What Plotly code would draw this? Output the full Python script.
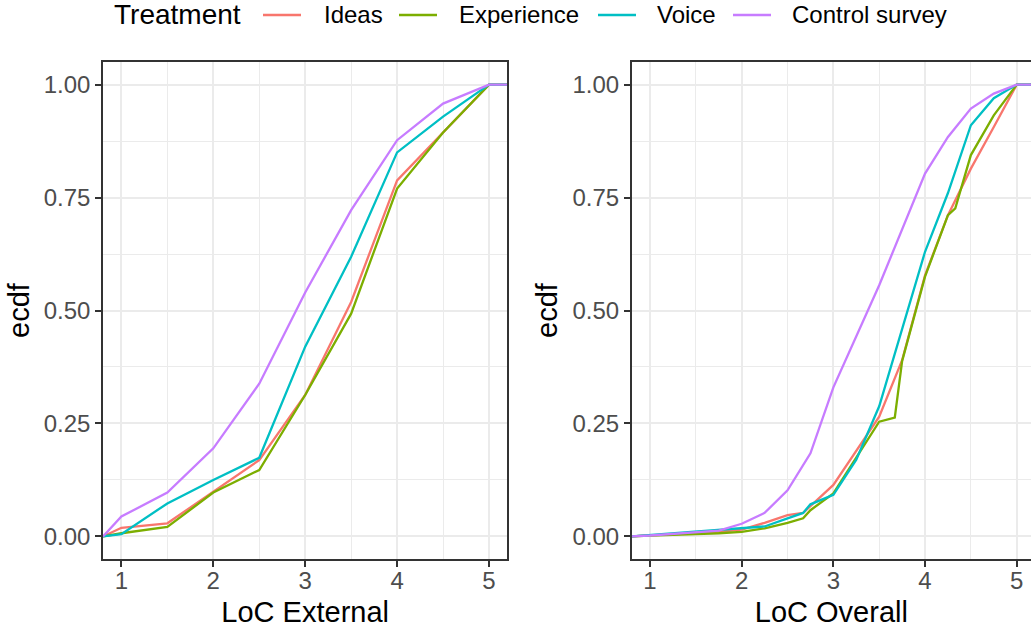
import plotly.graph_objects as go

# ---- data ----
treatments = ["Ideas", "Experience", "Voice", "Control survey"]
colors = ["#F8766D", "#7CAE00", "#00BFC4", "#C77CFF"]

# LoC External (ecdf padded at the panel edges)
ext_x = [0.8, 1, 1.5, 2, 2.5, 3, 3.5, 4, 4.5, 5, 5.2]
ext_ideas = [0, 0.019, 0.029, 0.099, 0.169, 0.313, 0.519, 0.788, 0.894, 1, 1]
ext_experience = [0, 0.007, 0.021, 0.097, 0.147, 0.313, 0.493, 0.770, 0.894, 1, 1]
ext_voice = [0, 0.005, 0.073, 0.125, 0.174, 0.420, 0.619, 0.850, 0.929, 1, 1]
ext_control = [0, 0.044, 0.097, 0.195, 0.338, 0.540, 0.722, 0.877, 0.958, 1, 1]

# LoC Overall
ov_ideas_x = [0.8, 1, 1.75, 2, 2.25, 2.5, 2.67, 3, 3.25, 3.5, 3.75, 4, 4.25, 4.5, 4.75, 5, 5.2]
ov_ideas = [0, 0.002, 0.010, 0.015, 0.030, 0.047, 0.052, 0.114, 0.190, 0.265, 0.390, 0.578, 0.711, 0.814, 0.906, 1, 1]
ov_exp_x = [0.8, 1, 1.75, 2, 2.25, 2.5, 2.67, 2.75, 3, 3.25, 3.5, 3.67, 3.75, 4, 4.25, 4.33, 4.5, 4.75, 5, 5.2]
ov_experience = [0, 0.002, 0.007, 0.010, 0.018, 0.030, 0.040, 0.058, 0.095, 0.175, 0.254, 0.263, 0.388, 0.575, 0.711, 0.726, 0.844, 0.932, 1, 1]
ov_voice_x = [0.8, 1, 1.75, 2, 2.25, 2.5, 2.67, 2.75, 3, 3.25, 3.5, 4, 4.25, 4.5, 4.75, 5, 5.2]
ov_voice = [0, 0.003, 0.014, 0.018, 0.022, 0.040, 0.052, 0.071, 0.092, 0.170, 0.288, 0.630, 0.760, 0.910, 0.970, 1, 1]
ov_ctrl_x = [0.8, 1, 1.75, 2, 2.25, 2.5, 2.75, 3, 3.5, 4, 4.25, 4.5, 4.75, 5, 5.2]
ov_control = [0, 0.002, 0.013, 0.028, 0.052, 0.102, 0.184, 0.330, 0.556, 0.803, 0.884, 0.947, 0.980, 1, 1]

x_ticks = [1, 2, 3, 4, 5]
y_ticks = [0, 0.25, 0.5, 0.75, 1.0]
y_ticklabels = ["0.00", "0.25", "0.50", "0.75", "1.00"]
legend_title = "Treatment"

ext_series = [ext_ideas, ext_experience, ext_voice, ext_control]
ov_series = [(ov_ideas_x, ov_ideas), (ov_exp_x, ov_experience),
             (ov_voice_x, ov_voice), (ov_ctrl_x, ov_control)]

FONT = "Liberation Sans, Arial, sans-serif"
TICK_SIZE = 24
TITLE_SIZE = 29

fig = go.Figure()
for i, name in enumerate(treatments):
    fig.add_trace(go.Scatter(x=ext_x, y=ext_series[i], mode="lines", name=name,
                             line=dict(color=colors[i], width=2.3),
                             xaxis="x", yaxis="y", showlegend=False))
for i, name in enumerate(treatments):
    xs, ys = ov_series[i]
    fig.add_trace(go.Scatter(x=xs, y=ys, mode="lines", name=name,
                             line=dict(color=colors[i], width=2.3),
                             xaxis="x2", yaxis="y2", showlegend=False))

grid = "#EBEBEB"
border = "#333333"
common_x = dict(tickvals=x_ticks, ticks="outside", ticklen=6, tickwidth=1.5, tickcolor=border,
                showgrid=True, gridcolor=grid, gridwidth=1.8,
                minor=dict(dtick=0.5, tick0=1, showgrid=True, gridcolor=grid, gridwidth=0.9, ticks=""),
                showline=True, linecolor=border, linewidth=1.5, zeroline=False,
                automargin=False, ticklabelstandoff=-7,
                tickfont=dict(size=TICK_SIZE, color="#4D4D4D", family=FONT),
                title_font=dict(size=TITLE_SIZE, color="black", family=FONT), title_standoff=9)
common_y = dict(tickvals=y_ticks, ticktext=y_ticklabels, ticks="outside", ticklen=6, tickwidth=1.5,
                tickcolor=border, range=[-0.05, 1.05],
                showgrid=True, gridcolor=grid, gridwidth=1.8,
                minor=dict(dtick=0.125, tick0=0, showgrid=True, gridcolor=grid, gridwidth=0.9, ticks=""),
                showline=True, linecolor=border, linewidth=1.5, zeroline=False,
                automargin=False,
                tickfont=dict(size=TICK_SIZE, color="#4D4D4D", family=FONT),
                title_font=dict(size=TITLE_SIZE, color="black", family=FONT), title_standoff=6)

W, H = 1031, 629
ml, mr, mt, mb = 103, 0, 62, 70
pw = W - ml - mr
ph = H - mt - mb


def px_x(p):
    return (p - ml) / pw


def px_y(p):
    return 1 - (p - mt) / ph


# legend (drawn in ggplot style at the top)
leg_y = 15
sym_x = [(263, 301), (399, 437), (598, 636), (733, 771)]
txt_x = [322, 457, 655, 790]
shapes = []
annotations = [dict(text=legend_title, x=px_x(112), y=px_y(leg_y), xref="paper", yref="paper",
                    xanchor="left", yanchor="middle", showarrow=False,
                    font=dict(size=28, color="black", family=FONT))]
for i, name in enumerate(treatments):
    x0, x1 = sym_x[i]
    shapes.append(dict(type="line", xref="paper", yref="paper", x0=px_x(x0), x1=px_x(x1),
                       y0=px_y(leg_y), y1=px_y(leg_y), line=dict(color=colors[i], width=2.6)))
    annotations.append(dict(text=name, x=px_x(txt_x[i]), y=px_y(leg_y), xref="paper", yref="paper",
                            xanchor="left", yanchor="middle", showarrow=False,
                            font=dict(size=TICK_SIZE, color="black", family=FONT)))

fig.update_layout(
    width=W, height=H,
    margin=dict(l=ml, r=mr, t=mt, b=mb, autoexpand=False),
    paper_bgcolor="white", plot_bgcolor="white",
    font=dict(family=FONT),
    showlegend=False,
    xaxis=dict(common_x, domain=[0, 404.4 / pw], range=[0.8, 5.2], mirror=True,
               title_text="LoC External", anchor="y"),
    yaxis=dict(common_y, domain=[0, 1], mirror=True, title_text="ecdf", anchor="x"),
    xaxis2=dict(common_x, domain=[(631.7 - ml) / pw, 1], range=[0.8, 5.156], mirror=True,
                title_text="LoC Overall", anchor="y2"),
    yaxis2=dict(common_y, domain=[0, 1], mirror=False, title_text="ecdf", anchor="x2"),
    shapes=shapes,
    annotations=annotations,
)

fig.write_html("out.html", config={"displayModeBar": False},
               post_script="document.body.style.margin='0';")
